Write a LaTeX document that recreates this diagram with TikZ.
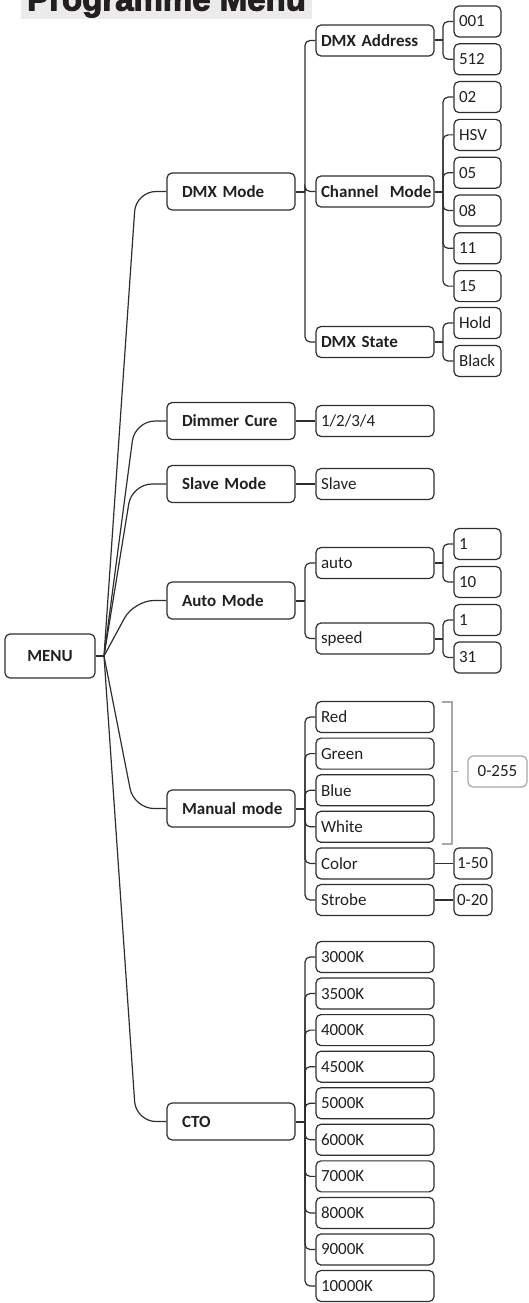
\documentclass[tikz,border=0pt]{standalone}
\usepackage{fontspec}
\setmainfont{Carlito}
\newfontfamily\titlefont[BoldFeatures={FakeBold=3}]{Liberation Sans}
\definecolor{linec}{HTML}{2E2E2E}
\definecolor{txt}{HTML}{231F20}
\definecolor{bgt}{HTML}{EBEBEB}
\definecolor{grayc}{HTML}{A8A8A8}
\tikzset{
  box/.style={draw=linec, line width=1.2pt, rounded corners=5pt, inner xsep=5pt, inner ysep=0pt,
    align=left, text=txt, font=\fontsize{17}{17}\selectfont, minimum height=31pt},
  lone/.style={box, minimum height=37pt, text width=98pt, inner xsep=15pt,
    font=\fontsize{17}{17}\selectfont\bfseries},
  ltwo/.style={box, text width=108pt},
  ltwob/.style={ltwo, font=\fontsize{17}{17}\selectfont\bfseries},
  leaf/.style={box, text width=37pt},
  sleaf/.style={box, text width=32pt, inner xsep=3pt},
  conn/.style={draw=linec, line width=1.2pt},
  stub/.style={draw=linec, line width=2pt},
  fan/.style={conn, rounded corners=5pt},
  mfan/.style={conn, rounded corners=20pt},
}
\begin{document}
\begin{tikzpicture}[x=1pt,y=-1pt]
\useasboundingbox (0,0) rectangle (528,1303);
\begin{scope}
\clip (0,0) rectangle (528,1303);
\fill[bgt] (21,-40) rectangle (312,19);
\node[anchor=base west, inner sep=0pt, text=txt, font=\fontsize{33}{33}\titlefont\bfseries] (title) at (27,10.5) {Programme Menu};
\end{scope}

% root
\node[box, minimum width=90pt, minimum height=44pt, align=center, inner xsep=0pt, font=\fontsize{17}{17}\selectfont\bfseries] (menu) at (50,656) {MENU};
\coordinate (jm) at (104,656);
\draw[stub] (menu.east) -- (jm);

% level 1
\node[lone] (dmxm) at (231,191.5) {\mbox{DMX Mode}};
\node[lone] (dim) at (231,421) {\mbox{Dimmer Cure}};
\node[lone] (slm) at (231,484) {\mbox{Slave Mode}};
\node[lone] (aut) at (231,600.5) {\mbox{Auto Mode}};
\node[lone] (man) at (231,808.5) {\mbox{Manual mode}};
\node[lone] (cto) at (231,1121.5) {CTO};

\draw[mfan] (jm) -- (136,191.5) -- (dmxm.west);
\draw[mfan] (jm) -- (135,421) -- (dim.west);
\draw[mfan] (jm) -- (132,484) -- (slm.west);
\draw[mfan] (jm) -- (134,600.5) -- (aut.west);
\draw[mfan] (jm) -- (134,808.5) -- (man.west);
\draw[mfan] (jm) -- (136,1121.5) -- (cto.west);

% DMX Mode branch
\node[ltwob] (dadr) at (375,40.5) {\mbox{DMX Address}};
\node[ltwob] (chm) at (375,191.5) {\mbox{Channel\ \ Mode}};
\node[ltwob] (dst) at (375,342) {\mbox{DMX State}};
\coordinate (jd) at (305,191.5);
\draw[stub] (dmxm.east) -- (jd);
\foreach \c in {dadr,chm,dst} \draw[fan] (jd) |- (\c.west);

\node[leaf] (a001) at (477.5,21.5) {001};
\node[leaf] (a512) at (477.5,59.3) {512};
\coordinate (jda) at (443,40.5);
\draw[stub] (dadr.east) -- (jda);
\foreach \c in {a001,a512} \draw[fan] (jda) |- (\c.west);

\node[leaf] (c02) at (477.5,97.1) {02};
\node[leaf] (chsv) at (477.5,134.9) {HSV};
\node[leaf] (c05) at (477.5,172.7) {05};
\node[leaf] (c08) at (477.5,210.5) {08};
\node[leaf] (c11) at (477.5,248.3) {11};
\node[leaf] (c15) at (477.5,286.1) {15};
\coordinate (jc) at (443,191.5);
\draw[stub] (chm.east) -- (jc);
\foreach \c in {c02,chsv,c05,c08,c11,c15} \draw[fan] (jc) |- (\c.west);

\node[leaf] (shold) at (477.5,323) {Hold};
\node[leaf] (sblack) at (477.5,361) {\mbox{Black}};
\coordinate (js) at (443,342);
\draw[stub] (dst.east) -- (js);
\foreach \c in {shold,sblack} \draw[fan] (js) |- (\c.west);

% Dimmer / Slave
\node[ltwo] (d1234) at (375,421) {\mbox{1/2/3/4}};
\draw[conn] (dim.east) -- (d1234.west);
\node[ltwo] (sslave) at (375,484) {Slave};
\draw[conn] (slm.east) -- (sslave.west);

% Auto branch
\node[ltwo] (aauto) at (375,563) {auto};
\node[ltwo] (aspeed) at (375,638.5) {speed};
\coordinate (ja) at (305,600.5);
\draw[stub] (aut.east) -- (ja);
\foreach \c in {aauto,aspeed} \draw[fan] (ja) |- (\c.west);

\node[leaf] (au1) at (477.5,544) {1};
\node[leaf] (au10) at (477.5,582) {10};
\coordinate (jaa) at (443,563);
\draw[stub] (aauto.east) -- (jaa);
\foreach \c in {au1,au10} \draw[fan] (jaa) |- (\c.west);

\node[leaf] (sp1) at (477.5,620) {1};
\node[leaf] (sp31) at (477.5,657.5) {31};
\coordinate (jsp) at (443,638.5);
\draw[stub] (aspeed.east) -- (jsp);
\foreach \c in {sp1,sp31} \draw[fan] (jsp) |- (\c.west);

% Manual branch
\node[ltwo] (mred) at (375,717) {Red};
\node[ltwo] (mgreen) at (375,753.6) {Green};
\node[ltwo] (mblue) at (375,790.2) {Blue};
\node[ltwo] (mwhite) at (375,826.8) {White};
\node[ltwo] (mcolor) at (375,863.4) {Color};
\node[ltwo] (mstrobe) at (375,900) {Strobe};
\coordinate (jman) at (305,808.5);
\draw[stub] (man.east) -- (jman);
\foreach \c in {mred,mgreen,mblue,mwhite,mcolor,mstrobe} \draw[fan] (jman) |- (\c.west);

\node[sleaf] (c150) at (473,863.4) {\mbox{1-50}};
\node[sleaf] (s020) at (473,900) {\mbox{0-20}};
\draw[conn] (mcolor.east) -- (c150.west);
\draw[conn] (mstrobe.east) -- (s020.west);

\coordinate (bt) at (452,702);
\coordinate (bb) at (452,844);
\coordinate (bm) at (452,771.5);
\draw[grayc, line width=1.2pt] (442,702) -- (bt) -- (bb) -- (442,844);
\node[box, draw=grayc, minimum width=59pt, align=center, inner xsep=0pt] (r0255) at (497.5,771.5) {\mbox{0-255}};
\draw[grayc, line width=1.2pt] (bm) -- (458,771.5);

% CTO branch
\coordinate (jcto) at (305,1121.5);
\draw[stub] (cto.east) -- (jcto);
\foreach \k [count=\i from 0] in {3000K,3500K,4000K,4500K,5000K,6000K,7000K,8000K,9000K,10000K} {
  \node[ltwo] (k\i) at (375,957+36.556*\i) {\k};
  \draw[fan] (jcto) |- (k\i.west);
}
\end{tikzpicture}
\end{document}
